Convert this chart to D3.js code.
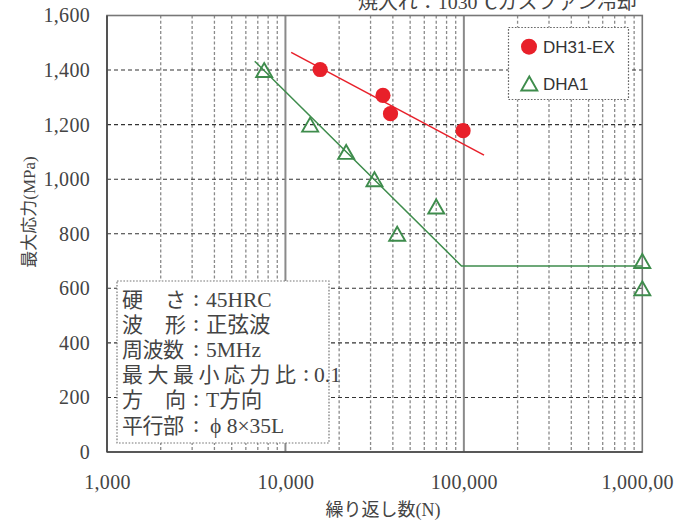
<!DOCTYPE html>
<html><head><meta charset="utf-8">
<script src="https://cdn.jsdelivr.net/npm/d3@7"></script>
<style>
html,body{margin:0;padding:0;background:#fff;}
svg{display:block;}
</style></head>
<body>
<svg id="c" width="674" height="522"></svg>
<script>
// ---- data ----
const xTicks = [1000, 10000, 100000, 1000000];
const yTicks = [0, 200, 400, 600, 800, 1000, 1200, 1400, 1600];
const dh31N = [15650, 35200, 38800, 99000];
const dh31S = [1402, 1307, 1240, 1178];
const dh31LineN = [10770, 129700];
const dh31LineS = [1465, 1088];
const dha1N = [7600, 13760, 21900, 31550, 42300, 70000, 1000000, 1000000];
const dha1S = [1400, 1200, 1100, 1000, 800, 900, 700, 600];
const dha1LineN = [6730, 97000, 1000000];
const dha1LineS = [1432, 682, 682];
const legendLabels = ["DH31-EX", "DHA1"];
const noteLabels = ["硬\u3000さ", "波\u3000形", "周波数", "最大最小応力比", "方\u3000向", "平行部"];
const noteValues = ["45HRC", "正弦波", "5MHz", "0.1", "T方向", "\u03D5 8\u00D735L"];
const topTitle = "焼入れ：1030℃ガスファン冷却";
const xTitle = "繰り返し数(N)";
const yTitle = "最大応力(MPa)";

const RED = "#e8202a", GREEN = "#3e8c4c", TXT = "#444";
const serif = "'Liberation Serif','Noto Sans CJK JP',serif";
const sans = "'Liberation Sans','Noto Sans CJK JP',sans-serif";

const svg = d3.select("#c");
const x = d3.scaleLog().domain([1000, 1000000]).range([107, 642.3]);
const y = d3.scaleLinear().domain([0, 1600]).range([452, 15.5]);

// top title (partially cut)
svg.append("text").attr("x", 358).attr("y", 9)
  .attr("textLength", 279).attr("lengthAdjust", "spacingAndGlyphs")
  .attr("font-family", serif).attr("font-size", 19).attr("fill", TXT).text(topTitle);

// grid
const g = svg.append("g");
const minors = [];
[1000, 10000, 100000].forEach(d => { for (let k = 2; k <= 9; k++) minors.push(k * d); });
g.selectAll("line.minor").data(minors).join("line")
  .attr("x1", d => x(d)).attr("x2", d => x(d)).attr("y1", y(1600)).attr("y2", y(0))
  .attr("stroke", "#8a8a8a").attr("stroke-width", 1.3).attr("stroke-dasharray", "3,2.2");
g.selectAll("line.hgrid").data(yTicks.filter(v => v > 0 && v < 1600)).join("line")
  .attr("x1", x(1000)).attr("x2", x(1000000)).attr("y1", d => y(d)).attr("y2", d => y(d))
  .attr("stroke", "#333").attr("stroke-width", 1.1).attr("stroke-dasharray", "4,3");
g.selectAll("line.major").data([10000, 100000]).join("line")
  .attr("x1", d => x(d)).attr("x2", d => x(d)).attr("y1", y(1600)).attr("y2", y(0))
  .attr("stroke", "#8a8a8a").attr("stroke-width", 2);
// border
svg.append("rect").attr("x", x(1000)).attr("y", y(1600))
  .attr("width", x(1000000) - x(1000)).attr("height", y(0) - y(1600))
  .attr("fill", "none").attr("stroke", "#777").attr("stroke-width", 1.6);
svg.append("line").attr("x1", x(1000)).attr("x2", x(1000)).attr("y1", y(1600)).attr("y2", y(0))
  .attr("stroke", "#444").attr("stroke-width", 1.6);
svg.append("line").attr("x1", x(1000)).attr("x2", x(1000000)).attr("y1", y(0)).attr("y2", y(0))
  .attr("stroke", "#444").attr("stroke-width", 1.6);

// axes
const ya = svg.append("g").attr("transform", `translate(${x(1000)},0)`)
  .call(d3.axisLeft(y).tickValues(yTicks).tickSize(0).tickPadding(17).tickFormat(d3.format(",")));
const xa = svg.append("g").attr("transform", `translate(0,${y(0)})`)
  .call(d3.axisBottom(x).tickValues(xTicks).tickSize(0).tickPadding(23).tickFormat(d3.format(",")));
[ya, xa].forEach(a => {
  a.select(".domain").remove();
  a.selectAll("text").attr("font-family", serif).attr("font-size", 20)
    .attr("fill", TXT).attr("letter-spacing", 0.3);
});

// axis titles
svg.append("text").attr("x", 383).attr("y", 516).attr("text-anchor", "middle")
  .attr("font-family", serif).attr("font-size", 18).attr("fill", TXT).text(xTitle);
svg.append("text").attr("transform", "translate(35,212) rotate(-90)").attr("text-anchor", "middle")
  .attr("font-family", serif).attr("font-size", 17).attr("fill", TXT).text(yTitle);

// note box
svg.append("rect").attr("x", 117).attr("y", 281).attr("width", 212).attr("height", 162)
  .attr("fill", "#fff").attr("stroke", "#777").attr("stroke-width", 1.2).attr("stroke-dasharray", "1.6,1.6");
const labelEnds = [186, 186, 184, 296, 186, 184];
const colonX = [196, 196, 196, 306, 196, 196];
const valueX = [206, 206, 206, 314, 206, 210];
noteLabels.forEach((t, i) => {
  const by = 306.5 + i * 25.2;
  svg.append("text").attr("x", 122).attr("y", by)
    .attr("textLength", labelEnds[i] - 122).attr("lengthAdjust", "spacing")
    .attr("font-family", serif).attr("font-size", 21).attr("fill", TXT).text(t);
  svg.append("text").attr("x", colonX[i]).attr("y", by - 1).attr("text-anchor", "middle")
    .attr("font-family", serif).attr("font-size", 24).attr("fill", TXT).text(":");
  svg.append("text").attr("x", valueX[i]).attr("y", by)
    .attr("font-family", serif).attr("font-size", 21.5).attr("fill", TXT).text(noteValues[i]);
});

// legend box
svg.append("rect").attr("x", 508.5).attr("y", 27.5).attr("width", 120).attr("height", 72)
  .attr("fill", "#fff").attr("stroke", "#666").attr("stroke-width", 1.2).attr("stroke-dasharray", "1.6,1.6");

const triPath = "M0,-7L8,7L-8,7Z";

// lines
const line = d3.line().x(d => x(d[0])).y(d => y(d[1]));
svg.append("path").attr("d", line(dh31LineN.map((n, i) => [n, dh31LineS[i]])))
  .attr("fill", "none").attr("stroke", RED).attr("stroke-width", 1.5);
svg.append("path").attr("d", line(dha1LineN.map((n, i) => [n, dha1LineS[i]])))
  .attr("fill", "none").attr("stroke", GREEN).attr("stroke-width", 1.5);

// markers
svg.selectAll("circle.dh31").data(dh31N.map((n, i) => [n, dh31S[i]])).join("circle")
  .attr("cx", d => x(d[0])).attr("cy", d => y(d[1])).attr("r", 7.6).attr("fill", RED);
svg.selectAll("path.dha1").data(dha1N.map((n, i) => [n, dha1S[i]])).join("path")
  .attr("d", triPath).attr("transform", d => `translate(${x(d[0])},${y(d[1])})`)
  .attr("fill", "#fff").attr("fill-opacity", 0).attr("stroke", GREEN).attr("stroke-width", 1.9);

// legend entries
svg.append("circle").attr("cx", 529).attr("cy", 46.7).attr("r", 8).attr("fill", RED);
svg.append("path").attr("d", triPath).attr("transform", "translate(529.3,83.5)")
  .attr("fill", "none").attr("stroke", GREEN).attr("stroke-width", 1.9);
legendLabels.forEach((t, i) => {
  svg.append("text").attr("x", 543).attr("y", 53 + i * 37)
    .attr("font-family", sans).attr("font-size", 17).attr("fill", "#333").text(t);
});
</script>
</body></html>
